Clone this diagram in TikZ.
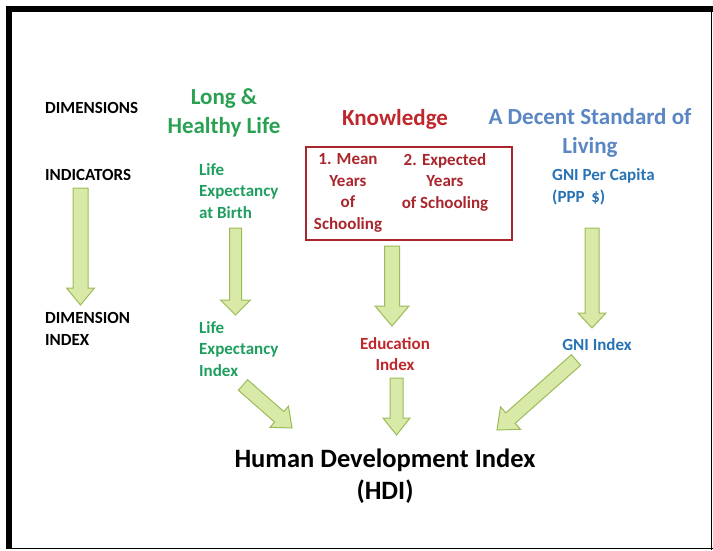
\documentclass[tikz,border=0pt]{standalone}
\usepackage{fontspec}
\setmainfont{Carlito}
\usetikzlibrary{calc, positioning}

\definecolor{hdigreen}{HTML}{2AA152}
\definecolor{hditeal}{HTML}{1E9E5E}
\definecolor{hdired}{HTML}{C0272D}
\definecolor{hdiboxred}{HTML}{A8262C}
\definecolor{hdiblue}{HTML}{5A86C3}
\definecolor{hdidblue}{HTML}{2873B4}
\definecolor{arrowfill}{HTML}{D9E9A8}
\definecolor{arrowline}{HTML}{9BBB59}

% block arrow: {from}{to}{half shaft}{half head}{head length}
\newcommand{\fatarrow}[5]{%
	\coordinate (fa-h) at ($(#2)!#5!(#1)$);
	\draw [blockarrow] ($(#1)!#3!90:(#2)$) -- ($(fa-h)!#3!-90:(#1)$) -- ($(fa-h)!#4!-90:(#1)$)
	-- (#2) -- ($(fa-h)!#4!90:(#1)$) -- ($(fa-h)!#3!90:(#1)$) -- ($(#1)!#3!-90:(#2)$) -- cycle;}

\begin{document}
\begin{tikzpicture}[x=1pt,y=-1pt,
	lbl/.style={inner sep=0, font=\bfseries\fontsize{17}{21.5}\selectfont, align=left},
	clbl/.style={lbl, align=center},
	head/.style={inner sep=0, font=\bfseries\fontsize{23}{29}\selectfont, align=center},
	blockarrow/.style={draw=arrowline, fill=arrowfill, line width=1pt, line join=miter}]
	
	\useasboundingbox (0,0) rectangle (713,550);
	\fill (6,6) rectangle (713,12);
	\fill (6,6) rectangle (12,549);
	\draw [line width=1.5pt] (6,548.5) -- (713,548.5);
	\draw [line width=1.5pt] (711.5,6) -- (711.5,550);
	
	% row labels
	\node (dims) [lbl, anchor=west] at (45,108) {DIMENSIONS};
	\node (inds) [lbl, anchor=west] at (45,175) {INDICATORS};
	\node (dimidx) [lbl, anchor=west] at (45,329) {DIMENSION\\INDEX};
	
	% health
	\node (health) [head, text=hdigreen] at (224,113) {Long \&\\Healthy Life};
	\node (lifeexp) [lbl, text=hditeal, anchor=west] at (199,191) {Life\\Expectancy\\at Birth};
	\node (lifeidx) [lbl, text=hditeal, anchor=west] at (199,349) {Life\\Expectancy\\Index};
	
	% knowledge
	\node (know) [head, text=hdired] at (395,119) {Knowledge};
	\draw [hdiboxred, line width=1.2pt] (306,147) rectangle (512,240);
	\node (meanyrs) [clbl, text=hdiboxred] at (348,193) {1. Mean\\Years\\of\\Schooling};
	\node (expyrs) [clbl, text=hdiboxred] at (445,182) {2. Expected\\Years\\of Schooling};
	\node (eduidx) [clbl, text=hdired] at (395,354) {Education\\Index};
	
	% living
	\node (living) [head, text=hdiblue] at (590,133) {A Decent Standard of\\Living};
	\node (gnipc) [lbl, text=hdidblue, anchor=west] at (552,187) {GNI Per Capita\\(PPP \,\$)};
	\node (gniidx) [lbl, text=hdidblue] at (597,345) {GNI Index};
	
	% result
	\node (hdi) [inner sep=0, font=\bfseries\fontsize{26.5}{32}\selectfont, align=center] at (385,476) {Human Development Index\\(HDI)};
	
	% arrow ends
	\coordinate (a1s) at (80.5,188);  \coordinate (a1e) at (80.5,305);
	\coordinate (a2s) at (235.5,228); \coordinate (a2e) at (235.5,315);
	\coordinate (a3s) at (392,246);   \coordinate (a3e) at (392,326);
	\coordinate (a4s) at (396.5,378); \coordinate (a4e) at (396.5,435);
	\coordinate (a5s) at (592,228);   \coordinate (a5e) at (592,328);
	\coordinate (a6s) at (243,385);   \coordinate (a6e) at (292,428);
	\coordinate (a7s) at (576,360);   \coordinate (a7e) at (497,430);
	
	\fatarrow{a1s}{a1e}{7.5pt}{14pt}{17pt}
	\fatarrow{a2s}{a2e}{6pt}{15pt}{15pt}
	\fatarrow{a3s}{a3e}{7.5pt}{17pt}{20pt}
	\fatarrow{a4s}{a4e}{6.5pt}{13.5pt}{17pt}
	\fatarrow{a5s}{a5e}{7pt}{14pt}{15pt}
	\fatarrow{a6s}{a6e}{7pt}{14pt}{17pt}
	\fatarrow{a7s}{a7e}{7pt}{15pt}{18pt}
	
\end{tikzpicture}
\end{document}
